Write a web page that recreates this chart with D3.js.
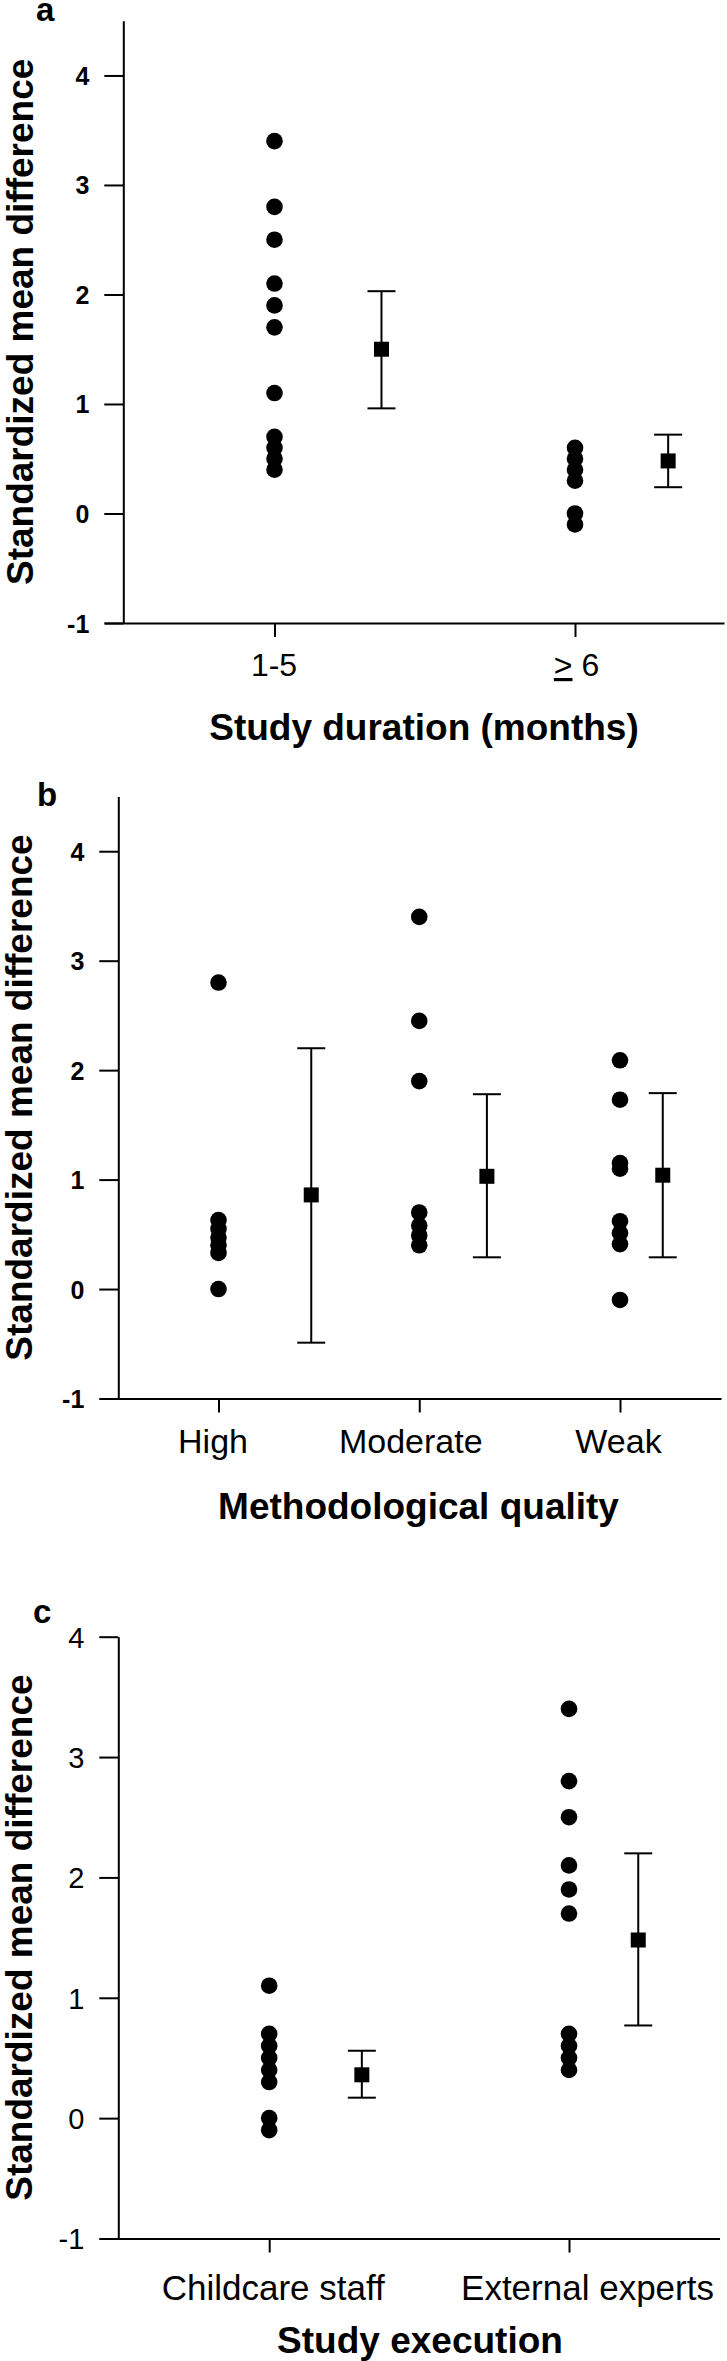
<!DOCTYPE html>
<html>
<head>
<meta charset="utf-8">
<script src="https://cdn.jsdelivr.net/npm/d3@7"></script>
<style>
  html, body { margin: 0; padding: 0; background: #fff; }
  svg { display: block; }
  text { font-family: 'Liberation Sans', Arial, Helvetica, sans-serif; fill: #000; }
</style>
</head>
<body>
<svg id="chart" width="727" height="2361"></svg>
<script>
// ---------- DATA ----------
// Panel a: study duration
const durationCategories = ["1-5", "≥ 6"];
const durationPoints = [
  [3.4, 2.8, 2.5, 2.1, 1.9, 1.7, 1.1, 0.7, 0.6, 0.5, 0.4],
  [0.6, 0.5, 0.4, 0.3, 0.0, -0.1]
];
const durationMean = [1.50, 0.48];
const durationLower = [0.96, 0.24];
const durationUpper = [2.03, 0.72];

// Panel b: methodological quality
const qualityCategories = ["High", "Moderate", "Weak"];
const qualityPoints = [
  [2.8, 0.63, 0.55, 0.47, 0.40, 0.33, 0.0],
  [3.4, 2.45, 1.9, 0.7, 0.58, 0.49, 0.4],
  [2.09, 1.73, 1.15, 1.1, 0.62, 0.51, 0.41, -0.1]
];
const qualityMean = [0.86, 1.03, 1.04];
const qualityLower = [-0.49, 0.29, 0.29];
const qualityUpper = [2.20, 1.78, 1.79];

// Panel c: study execution
const executionCategories = ["Childcare staff", "External experts"];
const executionPoints = [
  [1.1, 0.7, 0.6, 0.5, 0.4, 0.3, 0.0, -0.1],
  [3.4, 2.8, 2.5, 2.1, 1.9, 1.7, 0.7, 0.6, 0.5, 0.4]
];
const executionMean = [0.36, 1.48];
const executionLower = [0.17, 0.77];
const executionUpper = [0.56, 2.20];

const yTicksAB = [-1, 0, 1, 2, 3, 4];
const yTicksC = [-1, 0, 1, 2, 3, 4];
const yTitle = "Standardized mean difference";

// ---------- LAYOUT ----------
const panels = [
  {
    label: "a", labelX: 36, labelY: 21,
    cats: durationCategories, points: durationPoints,
    mean: durationMean, lower: durationLower, upper: durationUpper,
    title: "Study duration (months)", titleX: 424, titleY: 740,
    yDomain: [-1, 4.5], yRange: [623, 20.7], yTicks: yTicksAB,
    axisX: 123.3, axisRight: 724, catPx: [274.5, 575],
    meanOffset: [0.356, 0.31],
    tickBold: true, tickFont: 25,
    xLabelFont: 32, xLabelY: 53, xLabelDx: [-1, 1],
    yTitleX: 33
  },
  {
    label: "b", labelX: 37, labelY: 806,
    cats: qualityCategories, points: qualityPoints,
    mean: qualityMean, lower: qualityLower, upper: qualityUpper,
    title: "Methodological quality", titleX: 418.5, titleY: 1519,
    yDomain: [-1, 4.5], yRange: [1398.5, 796.5], yTicks: yTicksAB,
    axisX: 118.3, axisRight: 721, catPx: [218.5, 620],
    meanOffset: [0.462, 0.337, 0.213],
    tickBold: true, tickFont: 25,
    xLabelFont: 34, xLabelY: 54, xLabelDx: [-6, -9, -2],
    yTitleX: 32
  },
  {
    label: "c", labelX: 33, labelY: 1623,
    cats: executionCategories, points: executionPoints,
    mean: executionMean, lower: executionLower, upper: executionUpper,
    title: "Study execution", titleX: 420, titleY: 2353,
    yDomain: [-1, 4], yRange: [2238.5, 1636.7], yTicks: yTicksC,
    axisX: 118.3, axisRight: 719.5, catPx: [269.2, 569],
    meanOffset: [0.309, 0.231],
    tickBold: false, tickFont: 29,
    xLabelFont: 35, xLabelY: 61, xLabelDx: [3.5, 18],
    yTitleX: 32
  }
];

const svg = d3.select("#chart");
const TICK = 19, XTICK = 14, R = 8.3, SQ = 15, CAP = 28, SW = 2;

panels.forEach(p => {
  const g = svg.append("g");
  const y = d3.scaleLinear().domain(p.yDomain).range(p.yRange);
  const n = p.cats.length;
  const axisLeftPx = p.axisX - TICK;
  const xCat = d3.scaleLinear().domain([0, n - 1]).range(p.catPx);
  const x = d3.scaleLinear()
    .domain([xCat.invert(axisLeftPx), xCat.invert(p.axisRight)])
    .range([axisLeftPx, p.axisRight]);

  // Y axis
  const yAx = g.append("g")
    .attr("transform", `translate(${p.axisX},0)`)
    .call(d3.axisLeft(y).tickValues(p.yTicks).tickSize(TICK).tickSizeOuter(0).tickPadding(15)
      .tickFormat(d3.format("d")));
  yAx.selectAll("path.domain").attr("stroke", "#000").attr("stroke-width", SW);
  yAx.selectAll(".tick line").attr("stroke", "#000").attr("stroke-width", SW);
  yAx.selectAll(".tick text")
    .attr("font-size", p.tickFont)
    .attr("font-weight", p.tickBold ? "bold" : "normal")
    .attr("font-family", "'Liberation Sans', Arial, sans-serif")
    .attr("fill", "#000")
    .attr("dy", "0.36em")
    .text(d => d < 0 ? "-" + Math.abs(d) : d);

  // X axis
  const xAx = g.append("g")
    .attr("transform", `translate(0,${y(-1)})`)
    .call(d3.axisBottom(x).tickValues(d3.range(n)).tickSize(XTICK).tickSizeOuter(0)
      .tickFormat(i => p.cats[i]));
  xAx.selectAll("path.domain").attr("stroke", "#000").attr("stroke-width", SW);
  xAx.selectAll(".tick line").attr("stroke", "#000").attr("stroke-width", SW);
  xAx.selectAll(".tick text")
    .attr("font-size", p.xLabelFont)
    .attr("font-family", "'Liberation Sans', Arial, sans-serif")
    .attr("fill", "#000")
    .attr("y", p.xLabelY)
    .attr("dy", 0)
    .attr("dx", (d, i) => p.xLabelDx[i])
    .each(function(d) {
      const t = d3.select(this);
      const s = p.cats[d];
      if (s.startsWith("≥")) {
        t.text(null);
        t.append("tspan").attr("text-decoration", "underline").style("text-decoration", "underline").text(">");
        t.append("tspan").text(" " + s.slice(1).trim());
      }
    });

  // Individual study points
  p.points.forEach((vals, i) => {
    g.append("g").selectAll("circle")
      .data(vals)
      .join("circle")
      .attr("cx", x(i))
      .attr("cy", d => y(d))
      .attr("r", R)
      .attr("fill", "#000");
  });

  // Mean + CI
  const mg = g.append("g");
  p.mean.forEach((m, i) => {
    const cx = x(i + p.meanOffset[i]);
    mg.append("line")
      .attr("x1", cx).attr("x2", cx)
      .attr("y1", y(p.lower[i])).attr("y2", y(p.upper[i]))
      .attr("stroke", "#000").attr("stroke-width", SW);
    [p.lower[i], p.upper[i]].forEach(v => {
      mg.append("line")
        .attr("x1", cx - CAP / 2).attr("x2", cx + CAP / 2)
        .attr("y1", y(v)).attr("y2", y(v))
        .attr("stroke", "#000").attr("stroke-width", SW);
    });
    mg.append("rect")
      .attr("x", cx - SQ / 2).attr("y", y(m) - SQ / 2)
      .attr("width", SQ).attr("height", SQ)
      .attr("fill", "#000");
  });

  // Y title
  const yMid = (p.yRange[0] + p.yRange[1]) / 2;
  g.append("text")
    .attr("transform", `translate(${p.yTitleX},${yMid}) rotate(-90)`)
    .attr("text-anchor", "middle")
    .attr("font-size", 37)
    .attr("font-weight", "bold")
    .text(yTitle);

  // X title
  g.append("text")
    .attr("x", p.titleX).attr("y", p.titleY)
    .attr("text-anchor", "middle")
    .attr("font-size", 37)
    .attr("font-weight", "bold")
    .text(p.title);

  // Panel label
  g.append("text")
    .attr("x", p.labelX).attr("y", p.labelY)
    .attr("font-size", 33)
    .attr("font-weight", "bold")
    .text(p.label);
});
</script>
</body>
</html>
